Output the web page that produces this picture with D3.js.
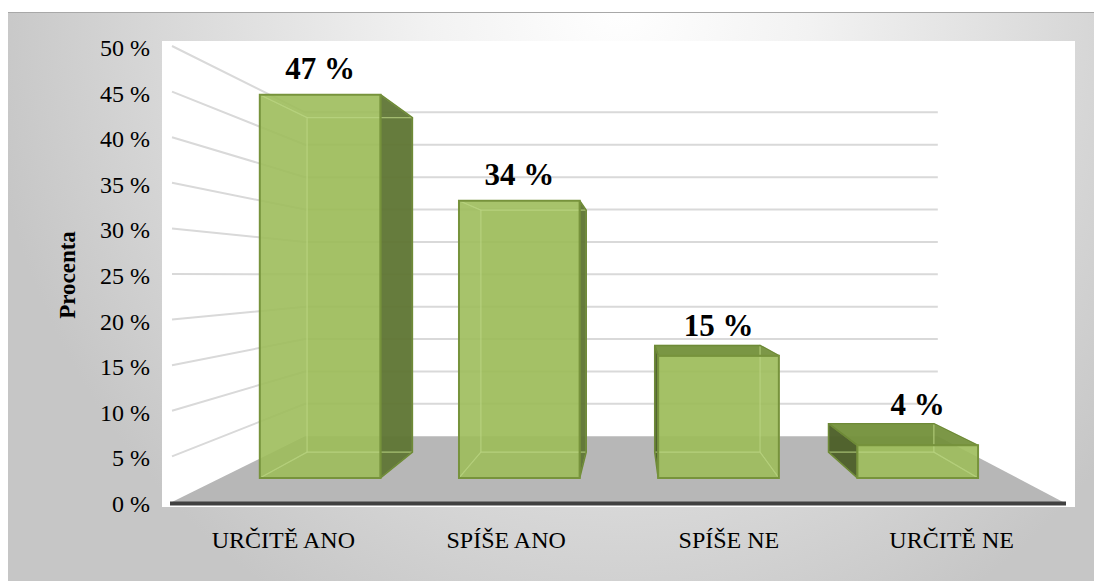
<!DOCTYPE html>
<html>
<head>
<meta charset="utf-8">
<script src="https://cdn.jsdelivr.net/npm/d3@7"></script>
<style>
  body { margin: 0; background: #fff; }
</style>
</head>
<body>
<div id="chart"></div>
<script>
// Data
const categories = ['URČITĚ ANO', 'SPÍŠE ANO', 'SPÍŠE NE', 'URČITĚ NE'];
const values = [47, 34, 15, 4];
const yTicks = [0, 5, 10, 15, 20, 25, 30, 35, 40, 45, 50];

const width = 1094;
const height = 581;
const serif = "'Liberation Serif', 'Times New Roman', Times, 'DejaVu Serif', serif";

const svg = d3.select('#chart').append('svg')
    .attr('width', width)
    .attr('height', height)
    .attr('font-family', serif)
    .style('font-family', serif);

// Background gradient
const defs = svg.append('defs');
const bg = defs.append('radialGradient')
    .attr('id', 'bg')
    .attr('gradientUnits', 'userSpaceOnUse')
    .attr('cx', 620).attr('cy', 0).attr('r', 640)
    .attr('gradientTransform', 'translate(620,0) scale(1,1.1) translate(-620,0)');
bg.append('stop').attr('offset', 0).attr('stop-color', '#ffffff');
bg.append('stop').attr('offset', 0.3).attr('stop-color', '#f2f2f2');
bg.append('stop').attr('offset', 1).attr('stop-color', '#c6c6c6');

svg.append('rect')
    .attr('x', 8).attr('y', 12)
    .attr('width', width - 8).attr('height', height - 12)
    .attr('fill', 'url(#bg)');
svg.append('line')
    .attr('x1', 8).attr('x2', width)
    .attr('y1', 12.5).attr('y2', 12.5)
    .attr('stroke', '#a8a8a8');

// Plot area
svg.append('rect')
    .attr('x', 162).attr('y', 41)
    .attr('width', 913).attr('height', 466)
    .attr('fill', '#fff');

// Scales on the front plane
const x = d3.scaleBand()
    .domain(categories)
    .range([172, 1063])
    .paddingInner(0.394)
    .paddingOuter(0.197);
const y = d3.scaleLinear().domain([0, 50]).range([502, 46]);

// Perspective: z = 0 front plane, z = 1 back wall
const VX = 631, VY = 275, K = 0.408;
const project = (px, py, z) => {
    const s = 1 / (1 + K * z);
    return [VX + (px - VX) * s, VY + (py - VY) * s];
};
const poly = pts => d3.line()(pts) + 'Z';

const [L, R] = x.range();

// Floor
const floor = [project(L, y(0), 0), project(R, y(0), 0), project(R, y(0), 1), project(L, y(0), 1)];
svg.append('path')
    .attr('d', poly(floor))
    .attr('fill', '#b7b7b7');

// Gridlines: side wall and back wall
const grid = svg.append('g')
    .attr('stroke', '#d9d9d9')
    .attr('stroke-width', 2)
    .attr('fill', 'none');
yTicks.filter(v => v > 0).forEach(v => {
    grid.append('path').attr('d', d3.line()([project(L, y(v), 0), project(L, y(v), 1), project(R, y(v), 1)]));
});

// Floor front edge
svg.append('line')
    .attr('x1', L - 2).attr('x2', R + 3)
    .attr('y1', y(0) + 1.5).attr('y2', y(0) + 1.5)
    .attr('stroke', '#404040')
    .attr('stroke-width', 4);

// Bars
const Z0 = 0.29, Z1 = 0.69;
const bw = x.bandwidth();

categories.forEach((c, i) => {
    const x0 = x(c), x1 = x0 + bw;
    const yb = y(0), yt = y(values[i]);
    const f = (px, py) => project(px, py, Z0);
    const b = (px, py) => project(px, py, Z1);

    const front = [f(x0, yb), f(x1, yb), f(x1, yt), f(x0, yt)];
    const back = [b(x0, yb), b(x1, yb), b(x1, yt), b(x0, yt)];
    const left = [f(x0, yb), b(x0, yb), b(x0, yt), f(x0, yt)];
    const right = [f(x1, yb), b(x1, yb), b(x1, yt), f(x1, yt)];
    const top = [f(x0, yt), f(x1, yt), b(x1, yt), b(x0, yt)];
    const bottom = [f(x0, yb), f(x1, yb), b(x1, yb), b(x0, yb)];

    const leftVisible = x0 > VX;
    const rightVisible = x1 < VX;
    const topVisible = yt > VY;

    const g = svg.append('g');

    const visible = [];
    const hidden = [back, bottom];
    if (leftVisible) visible.push({ pts: left, fill: '#4b5e27' }); else hidden.push(left);
    if (rightVisible) visible.push({ pts: right, fill: '#5f7534' }); else hidden.push(right);
    if (topVisible) visible.push({ pts: top, fill: '#74903b' }); else hidden.push(top);

    // back face seen through the bar
    g.append('path').attr('d', poly(back)).attr('fill', '#9bbb59').attr('fill-opacity', 0.35);

    visible.forEach(face => {
        g.append('path')
            .attr('d', poly(face.pts))
            .attr('fill', face.fill)
            .attr('fill-opacity', 0.94);
    });

    g.append('path')
        .attr('d', poly(front))
        .attr('fill', '#9dbd5b')
        .attr('fill-opacity', 0.9);

    // hidden edges show faintly through the front
    hidden.forEach(pts => {
        g.append('path')
            .attr('d', poly(pts))
            .attr('fill', 'none')
            .attr('stroke', '#bcd684')
            .attr('stroke-opacity', 0.45)
            .attr('stroke-width', 1.2);
    });

    visible.forEach(face => {
        g.append('path')
            .attr('d', poly(face.pts))
            .attr('fill', 'none')
            .attr('stroke', '#6e8a37')
            .attr('stroke-width', 1.5)
            .attr('stroke-linejoin', 'round');
    });
    g.append('path')
        .attr('d', poly(front))
        .attr('fill', 'none')
        .attr('stroke', '#77933c')
        .attr('stroke-width', 2);

    // value label above the top face
    const cx = (front[2][0] + front[3][0]) / 2;
    const ly = topVisible ? back[2][1] - 9 : front[2][1] - 16;
    svg.append('text')
        .attr('x', cx)
        .attr('y', ly)
        .attr('text-anchor', 'middle')
        .style('font-family', serif)
        .style('font-size', '31px')
        .style('font-weight', 'bold')
        .text(`${values[i]} %`);
});

// Y axis labels
svg.append('g').selectAll('text')
    .data(yTicks)
    .enter().append('text')
    .attr('x', 150)
    .attr('y', d => y(d))
    .attr('dy', '0.42em')
    .attr('text-anchor', 'end')
    .style('font-family', serif)
    .style('font-size', '24px')
    .text(d => `${d} %`);

// Category labels
svg.append('g').selectAll('text')
    .data(categories)
    .enter().append('text')
    .attr('x', d => x(d) + bw / 2)
    .attr('y', 548)
    .attr('text-anchor', 'middle')
    .style('font-family', serif)
    .style('font-size', '24px')
    .text(d => d);

// Axis title
svg.append('text')
    .attr('transform', 'translate(75,275) rotate(-90)')
    .attr('text-anchor', 'middle')
    .style('font-family', serif)
    .style('font-size', '23px')
    .style('font-weight', 'bold')
    .text('Procenta');
</script>
</body>
</html>
